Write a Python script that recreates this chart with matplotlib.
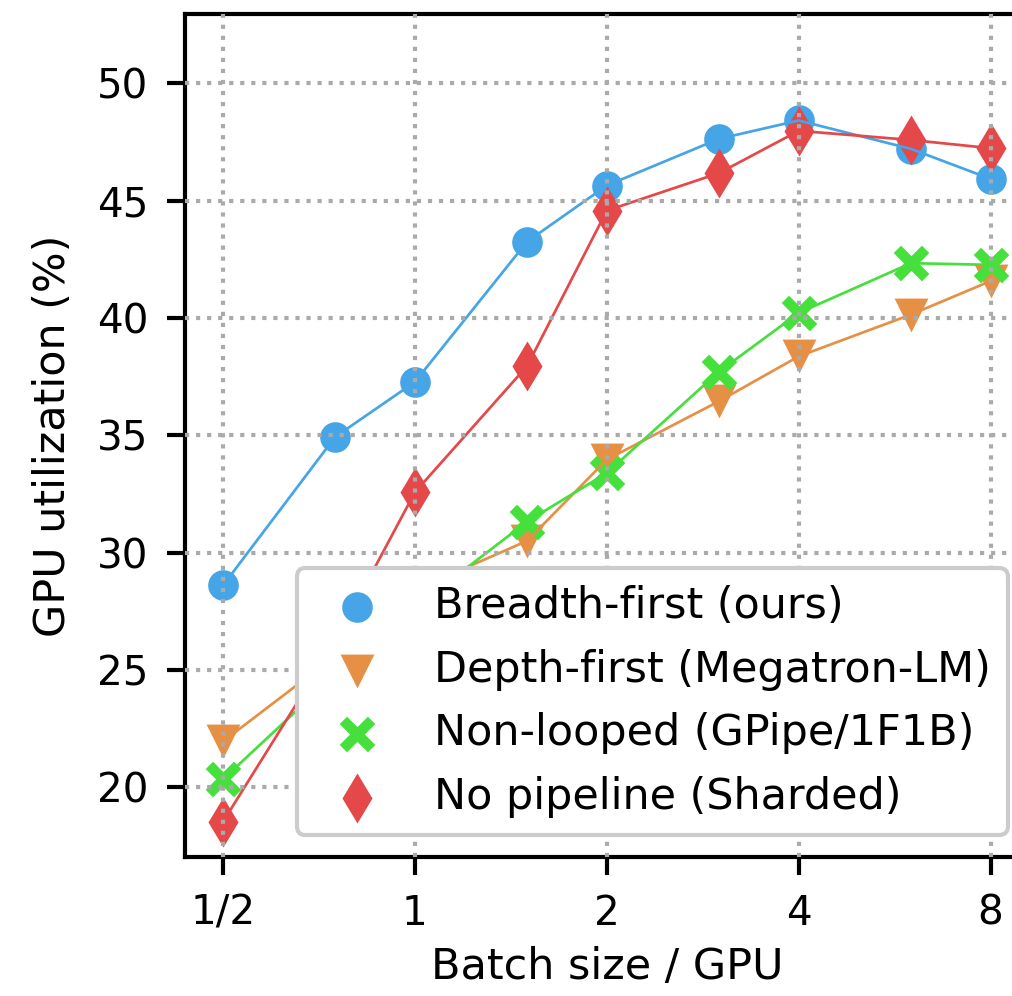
import numpy as np
import matplotlib
matplotlib.use("Agg")
import matplotlib.pyplot as plt
from matplotlib.ticker import FixedLocator, NullLocator

# datos
batch = [0.5, 0.75, 1, 1.5, 2, 3, 4, 6, 8]
breadth = [28.6, 34.93, 37.27, 43.25, 45.64, 47.63, 48.41, 47.2, 45.92]
depth = [21.95, 25.6, 28.4, 30.5, 33.96, 36.45, 38.36, 40.14, 41.57]
nonloop = [20.34, 24.8, 27.65, 31.32, 33.39, 37.71, 40.21, 42.33, 42.26]
nopipe = [18.53, 26.2, 32.57, 37.95, 44.57, 46.17, 47.97, 47.58, 47.23]

xticks = [0.5, 1, 2, 4, 8]
xlabels = ["1/2", "1", "2", "4", "8"]

names = ["Breadth-first (ours)", "Depth-first (Megatron-LM)",
         "Non-looped (GPipe/1F1B)", "No pipeline (Sharded)"]
colors = ["#45a5e6", "#e69046", "#46e03c", "#e44848"]
markers = ["o", "v", "x", "d"]
sizes = [54, 66, 46, 72]
series = [breadth, depth, nonloop, nopipe]

plt.rcParams["font.size"] = 10.3
plt.rcParams["xtick.labelsize"] = 9.7
plt.rcParams["ytick.labelsize"] = 9.7
plt.rcParams["axes.linewidth"] = 1.0
for a in ["xtick", "ytick"]:
    plt.rcParams[a + ".major.size"] = 4.4
    plt.rcParams[a + ".major.width"] = 1.0
    plt.rcParams[a + ".major.pad"] = 4.4

fig = plt.figure(figsize=(1012/300, 996/300), dpi=300)
ax = fig.add_axes([0.1828, 0.1396, 0.834, 0.8464])

for ys, c, m, s, n in zip(series, colors, markers, sizes, names):
    ax.plot(batch, ys, color=c, lw=0.65)
    if m == "x":
        ax.scatter(batch, ys, color=c, marker=m, s=s, linewidths=2.5, label=n)
    else:
        ax.scatter(batch, ys, color=c, marker=m, s=s, linewidths=0, label=n)

ax.set_xscale("log", base=2)
ax.set_xlim(0.5/2**0.198, 8*2**0.2)
ax.set_ylim(17.03, 52.95)
ax.xaxis.set_major_locator(FixedLocator(xticks))
ax.xaxis.set_minor_locator(NullLocator())
ax.set_xticklabels(xlabels)
ax.set_yticks([20, 25, 30, 35, 40, 45, 50])

ax.set_axisbelow(False)
ax.grid(True, linestyle=":", color="#aaaaaa", lw=1.0)

ax.set_xlabel("Batch size / GPU", labelpad=3.0)
ax.set_ylabel("GPU utilization (%)", labelpad=5.5)

ax.legend(loc="lower right", bbox_to_anchor=(0.975, 0.026), borderaxespad=0,
          framealpha=1, scatterpoints=1)

fig.savefig("out.png", dpi=300)
